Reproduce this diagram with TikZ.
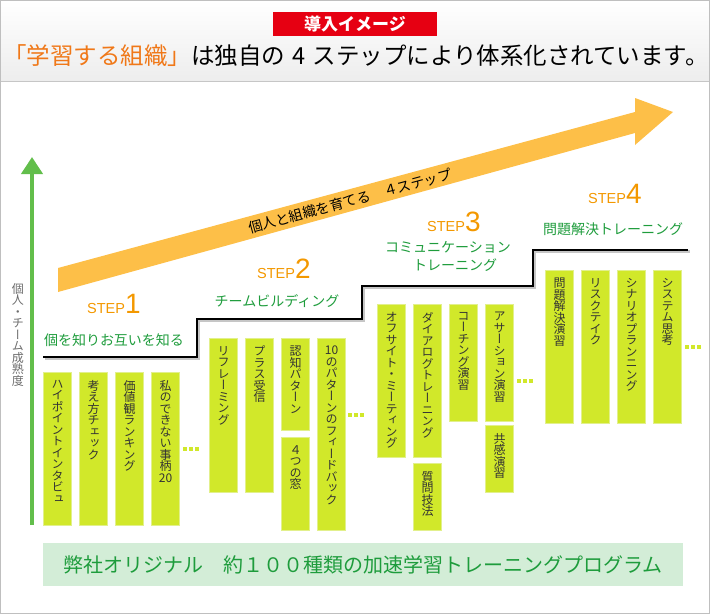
\documentclass[tikz,border=0pt]{standalone}
\usepackage{fontspec}
\setmainfont{Noto Sans CJK JP}
\newfontfamily\latinfont{Liberation Sans}
\newfontfamily\tatefont[RawFeature=+vert]{Noto Sans CJK JP}
\usetikzlibrary{arrows.meta,positioning}

\definecolor{labelred}{HTML}{E60012}
\definecolor{titleorange}{HTML}{F07818}
\definecolor{bandorange}{HTML}{FDBF48}
\definecolor{axisgreen}{HTML}{62BE4B}
\definecolor{steporange}{HTML}{F39800}
\definecolor{textgreen}{HTML}{1E9C3C}
\definecolor{boxfill}{HTML}{D1E82A}
\definecolor{boxedge}{HTML}{E2F08C}
\definecolor{boxtext}{HTML}{333333}
\definecolor{bannergreen}{HTML}{D3EDD7}

% one character per line, for the upright column texts
\makeatletter
\newcommand\tate[1]{\vbox{\tatefont\fontsize{12}{11.5}\selectfont
    \baselineskip=11.5pt\lineskiplimit=-20pt\lineskip=0pt
    \@tfor\tch:=#1\do{\hbox to 12pt{\hss\tch\hss}}}}
\makeatother

\tikzset{
    ybox/.style={draw=boxedge, fill=boxfill, line width=1pt, minimum width=28pt,
        inner sep=0pt, anchor=north west},
    tatelbl/.style={anchor=north, yshift=-8pt, inner sep=0pt, text=boxtext},
    steplbl/.style={anchor=base west, inner sep=0pt, text=steporange,
        font=\latinfont\fontsize{14.5}{14.5}\selectfont},
    subtitle/.style={inner sep=0pt, text=textgreen, font=\fontsize{14}{18}\selectfont},
    steproad/.style={line width=2.5pt, line join=miter}
}

\begin{document}
\begin{tikzpicture}[x=1pt, y=-1pt]
    \useasboundingbox (0,0) rectangle (710,614);
    % header
    \shade[top color=white, bottom color=gray!14] (0,0) rectangle (710,81);
    \draw[gray!45] (0,81) -- (710,81);
    \draw[gray!50, line width=1pt] (0.5,0.5) rectangle (709.5,613.5);
    \node[fill=labelred, text=white, minimum width=164pt, minimum height=24pt,
        inner sep=0pt, font=\fontsize{17}{17}\selectfont\bfseries] (intro) at (355,24) {導入イメージ};
    \node[inner sep=0pt, font=\fontsize{23.5}{23.5}\selectfont] (title) at (356,56) {%
        {\color{titleorange}「学習する組織」}は独自の\hspace{0.3em}4\hspace{0.3em}ステップにより体系化されています。};

    % growth band
    \fill[bandorange] (58,268) -- (635,112) -- (635,98) -- (673,112)
        -- (635,145) -- (635,133) -- (58,292) -- cycle;
    \node[rotate=15.1, inner sep=0pt, font=\fontsize{14}{14}\selectfont] (bandtext) at (350,201)
        {個人と組織を育てる　４ステップ};

    % maturity axis
    \coordinate (axisbot) at (32,525);
    \coordinate (axistop) at (32,157);
    \draw[axisgreen, line width=4pt, -{Triangle[width=21pt,length=17pt]}] (axisbot) -- (axistop);
    \node[anchor=north, inner sep=0pt, text=gray!85!black] (axislbl) at (18,283) {\tate{個人・チーム成熟度}};

    % stair line
    \draw[steproad, gray!45, shift={(1.5,1.5)}] (43,357) -- (197,357) |- (362,319) |- (533,286) |- (688,250);
    \draw[steproad] (43,357) -- (197,357) |- (362,319) |- (533,286) |- (688,250);

    % step titles
    \node[steplbl] (step1) at (87,313) {STEP{\fontsize{28}{28}\selectfont 1}};
    \node[steplbl] (step2) at (257,278) {STEP{\fontsize{28}{28}\selectfont 2}};
    \node[steplbl] (step3) at (427,231) {STEP{\fontsize{28}{28}\selectfont 3}};
    \node[steplbl] (step4) at (588,203) {STEP{\fontsize{28}{28}\selectfont 4}};
    \node[subtitle] (sub1) at (114,340) {個を知りお互いを知る};
    \node[subtitle] (sub2) at (277,301) {チームビルディング};
    \node[subtitle, align=left, anchor=north west] (sub3) at (385,241)
        {コミュニケーション\\\hspace{2em}トレーニング};
    \node[subtitle] (sub4) at (613,229) {問題解決トレーニング};

    % step 1 programs
    \node[ybox, minimum height=153pt, label={[tatelbl]north:\tate{ハイポイントインタビュ}}] (s1a) at (43,372) {};
    \node[ybox, minimum height=153pt, label={[tatelbl]north:\tate{考え方チェック}}] (s1b) at (79,372) {};
    \node[ybox, minimum height=153pt, label={[tatelbl]north:\tate{価値観ランキング}}] (s1c) at (115,372) {};
    \node[ybox, minimum height=153pt, label={[tatelbl]north:\tate{私のできない事柄{20}}}] (s1d) at (151,372) {};

    % step 2 programs
    \node[ybox, minimum height=154pt, label={[tatelbl]north:\tate{リフレーミング}}] (s2a) at (209,338) {};
    \node[ybox, minimum height=154pt, label={[tatelbl]north:\tate{プラス受信}}] (s2b) at (245,338) {};
    \node[ybox, minimum height=92pt, label={[tatelbl]north:\tate{認知パターン}}] (s2c) at (281,338) {};
    \node[ybox, minimum height=93pt, label={[tatelbl]north:\tate{４つの窓}}] (s2d) at (281,437) {};
    \node[ybox, minimum height=192pt, label={[tatelbl]north:\tate{{10}のパターンのフィードバック}}] (s2e) at (317,338) {};

    % step 3 programs
    \node[ybox, minimum height=153pt, label={[tatelbl]north:\tate{オフサイト・ミーティング}}] (s3a) at (377,304) {};
    \node[ybox, minimum height=153pt, label={[tatelbl]north:\tate{ダイアログトレーニング}}] (s3b) at (413,304) {};
    \node[ybox, minimum height=67pt, label={[tatelbl]north:\tate{質問技法}}] (s3c) at (413,463) {};
    \node[ybox, minimum height=117pt, label={[tatelbl]north:\tate{コーチング演習}}] (s3d) at (449,304) {};
    \node[ybox, minimum height=117pt, label={[tatelbl]north:\tate{アサーション演習}}] (s3e) at (485,304) {};
    \node[ybox, minimum height=67pt, label={[tatelbl]north:\tate{共感演習}}] (s3f) at (485,425) {};

    % step 4 programs
    \node[ybox, minimum height=153pt, label={[tatelbl]north:\tate{問題解決演習}}] (s4a) at (545,270) {};
    \node[ybox, minimum height=153pt, label={[tatelbl]north:\tate{リスクテイク}}] (s4b) at (581,270) {};
    \node[ybox, minimum height=153pt, label={[tatelbl]north:\tate{シナリオプランニング}}] (s4c) at (617,270) {};
    \node[ybox, minimum height=153pt, label={[tatelbl]north:\tate{システム思考}}] (s4d) at (653,270) {};

    % more-to-come dots
    \foreach \dx/\dy in {183/449, 348/415, 517/381, 685/347}
        \foreach \k in {0,1,2}
            \fill[boxfill] (\dx+\k*6,\dy-2) rectangle ++(4,4);

    % bottom banner
    \node[fill=bannergreen, minimum width=640pt, minimum height=43pt, inner sep=0pt,
        text=textgreen, font=\fontsize{20}{20}\selectfont] (program) at (363,564.5)
        {弊社オリジナル　約１００種類の加速学習トレーニングプログラム};
\end{tikzpicture}
\end{document}
